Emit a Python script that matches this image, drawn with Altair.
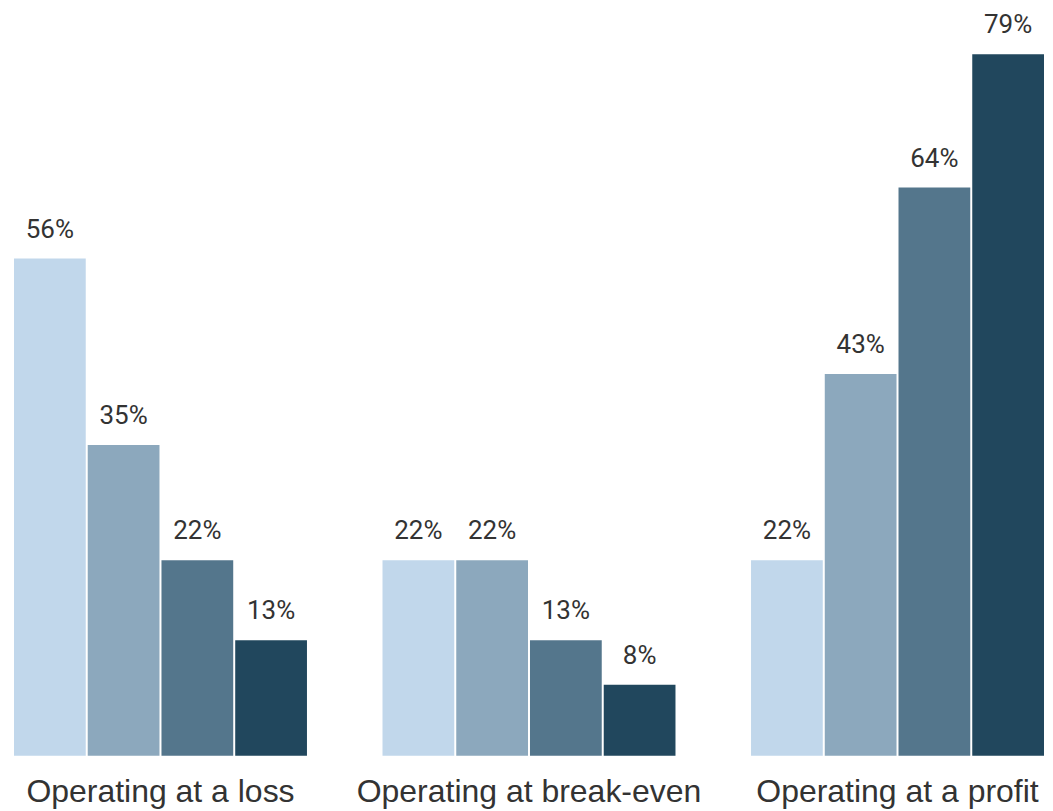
import altair as alt
import pandas as pd

groups = ["Operating at a loss", "Operating at break-even", "Operating at a profit"]
series = ["S1", "S2", "S3", "S4"]
values = [
    [56, 35, 22, 13],
    [22, 22, 13, 8],
    [22, 43, 64, 79],
]
colors = ["#c1d7eb", "#8ca8bd", "#54768c", "#21475d"]

rows = []
for g, vals in zip(groups, values):
    for s, v in zip(series, vals):
        rows.append({"group": g, "series": s, "value": v, "label": f"{v}%"})
df = pd.DataFrame(rows)

x = alt.X("group:N", sort=groups, title=None,
          scale=alt.Scale(paddingInner=0.205, paddingOuter=0),
          axis=alt.Axis(labelAngle=0, domain=False, ticks=False, labelPadding=21,
                        labelFontSize=32, labelFont="Liberation Sans", labelColor="#333333",
                        labelLimit=400))
xo = alt.XOffset("series:N", sort=series, scale=alt.Scale(paddingInner=0.027, paddingOuter=0))
y = alt.Y("value:Q", scale=alt.Scale(domain=[0, 83.5]), axis=None)

bars = alt.Chart(df).mark_bar().encode(
    x=x, xOffset=xo, y=y,
    color=alt.Color("series:N", sort=series, scale=alt.Scale(domain=series, range=colors), legend=None),
)
text = alt.Chart(df).mark_text(baseline="alphabetic", dy=-21, fontSize=26, font="Roboto", color="#333333").encode(
    x=x, xOffset=xo, y=y, text="label:N"
)

chart = (bars + text).properties(
    width=1031, height=742,
    padding={"left": 6, "top": 3, "right": 0, "bottom": 5},
).configure_view(stroke=None)

chart.save("out.html", embed_options={"renderer": "svg", "actions": False})
